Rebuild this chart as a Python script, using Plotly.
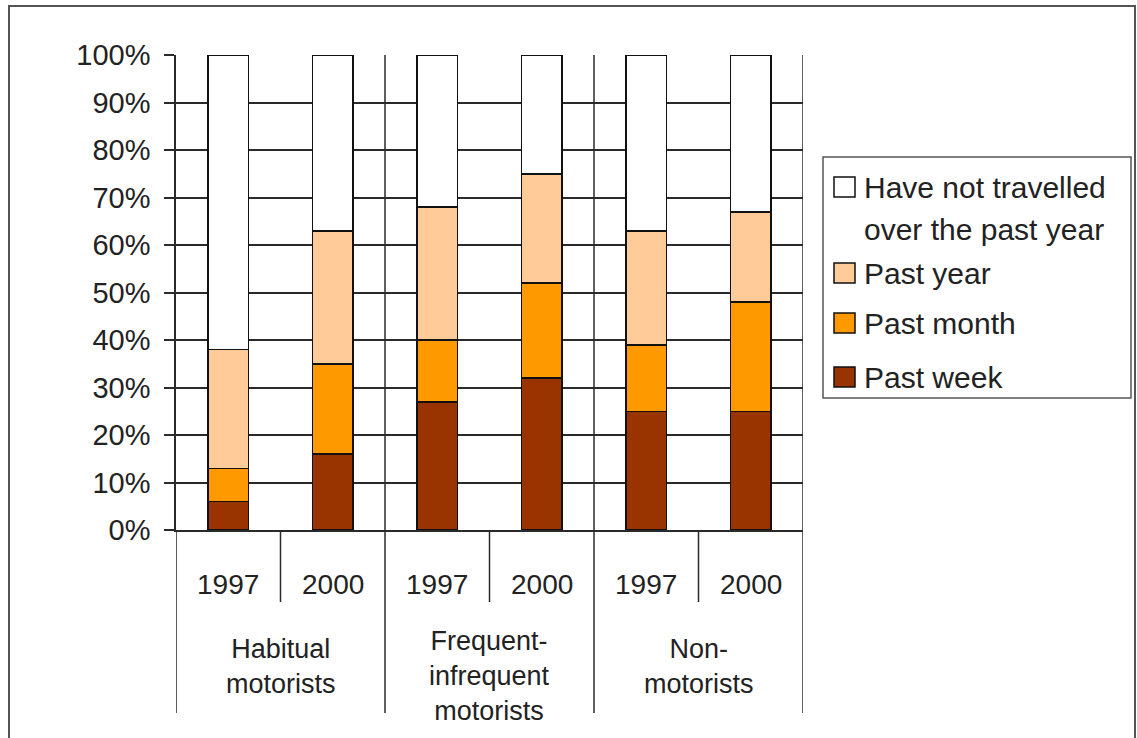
import plotly.graph_objects as go

# ---- data ----
groups = ["Habitual<br>motorists", "Frequent-<br>infrequent<br>motorists", "Non-<br>motorists"]
years = ["1997", "2000"]
series_names = ["Past week", "Past month", "Past year", "Have not travelled over the past year"]
past_week = [6, 16, 27, 32, 25, 25]
past_month = [7, 19, 13, 20, 14, 23]
past_year = [25, 28, 28, 23, 24, 19]
not_travelled = [62, 37, 32, 25, 37, 33]
colors = ["#993300", "#FF9900", "#FFCC99", "#FFFFFF"]
yticks = [0, 10, 20, 30, 40, 50, 60, 70, 80, 90, 100]

W, H = 1137, 738
L, R, T, B = 176, 803, 55, 530
FONT = "Liberation Sans, Arial, sans-serif"
INK = "#222222"
GRID = "#2a2a2a"

def px(xp):
    return (xp - L) / (R - L)

def py(yp):
    return (B - yp) / (B - T)

n = len(groups) * len(years)
xpos = list(range(n))

fig = go.Figure()
for name, vals, col in zip(series_names, [past_week, past_month, past_year, not_travelled], colors):
    fig.add_trace(go.Bar(
        x=xpos, y=vals, name=name, width=0.39,
        marker=dict(color=col, line=dict(color="#111111", width=1.5)),
        showlegend=False,
    ))

shapes = []
# vertical grid lines at group boundaries inside plot
for gx in [1.5, 3.5, 5.5]:
    shapes.append(dict(type="line", xref="x", yref="y", x0=gx, x1=gx, y0=0, y1=100,
                       line=dict(color=GRID, width=1.5), layer="below"))
# dividers below axis
for i in range(len(groups) + 1):
    gx = -0.5 + 2 * i
    shapes.append(dict(type="line", xref="x", yref="paper", x0=gx, x1=gx, y0=0, y1=py(713),
                       line=dict(color=GRID, width=1.5)))
for i in range(len(groups)):
    gx = 0.5 + 2 * i
    shapes.append(dict(type="line", xref="x", yref="paper", x0=gx, x1=gx, y0=0, y1=py(602),
                       line=dict(color=GRID, width=1.5)))
# outer frame
shapes.append(dict(type="rect", xref="paper", yref="paper", x0=px(9), x1=px(1135), y0=py(760), y1=py(6),
                   line=dict(color="#555555", width=2), fillcolor="rgba(0,0,0,0)"))
# legend box
shapes.append(dict(type="rect", xref="paper", yref="paper", x0=px(823), x1=px(1131), y0=py(398), y1=py(157),
                   line=dict(color="#555555", width=1.5), fillcolor="white"))

annotations = []
# year labels
for gi in range(len(groups)):
    for yi, yr in enumerate(years):
        annotations.append(dict(x=2 * gi + yi, y=py(584), xref="x", yref="paper", text=yr,
                                showarrow=False, xanchor="center", yanchor="middle",
                                font=dict(family=FONT, size=28, color=INK)))
# group labels
group_tops = [632, 624, 632]
for gi, g in enumerate(groups):
    annotations.append(dict(x=2 * gi + 0.5, y=py(group_tops[gi]), xref="x", yref="paper", text=g,
                            showarrow=False, xanchor="center", yanchor="top",
                            font=dict(family=FONT, size=27, color=INK)))

# legend (manual, reversed order as in reference)
legend_items = [
    (3, ["Have not travelled", "over the past year"], 187),
    (2, ["Past year"], 273),
    (1, ["Past month"], 323),
    (0, ["Past week"], 377),
]
for si, lines, cy in legend_items:
    shapes.append(dict(type="rect", xref="paper", yref="paper", x0=px(834), x1=px(855),
                       y0=py(cy + 10), y1=py(cy - 10),
                       fillcolor=colors[si], line=dict(color="#111111", width=1.5)))
    for li, txt in enumerate(lines):
        annotations.append(dict(x=px(862), y=py(cy + li * 42), xref="paper", yref="paper", text=txt,
                                showarrow=False, xanchor="left", yanchor="middle",
                                font=dict(family=FONT, size=30, color=INK)))

fig.update_layout(
    width=W, height=H,
    margin=dict(l=L, r=W - R, t=T, b=H - B),
    paper_bgcolor="white", plot_bgcolor="white",
    barmode="stack", bargap=0.6,
    shapes=shapes, annotations=annotations,
    xaxis=dict(range=[-0.5, 5.5], showticklabels=False, ticks="", showgrid=False, zeroline=False,
               showline=True, linecolor=GRID, linewidth=1.5),
    yaxis=dict(range=[0, 100], tickvals=yticks, ticktext=[f"{v}%" for v in yticks],
               showgrid=True, gridcolor=GRID, gridwidth=1.5, zeroline=False,
               showline=True, linecolor=GRID, linewidth=1.5,
               ticks="outside", ticklen=10, tickcolor=GRID, tickwidth=1.5,
               ticklabelstandoff=8,
               tickfont=dict(family=FONT, size=29, color=INK)),
    showlegend=False,
)

fig.write_html("out.html")
